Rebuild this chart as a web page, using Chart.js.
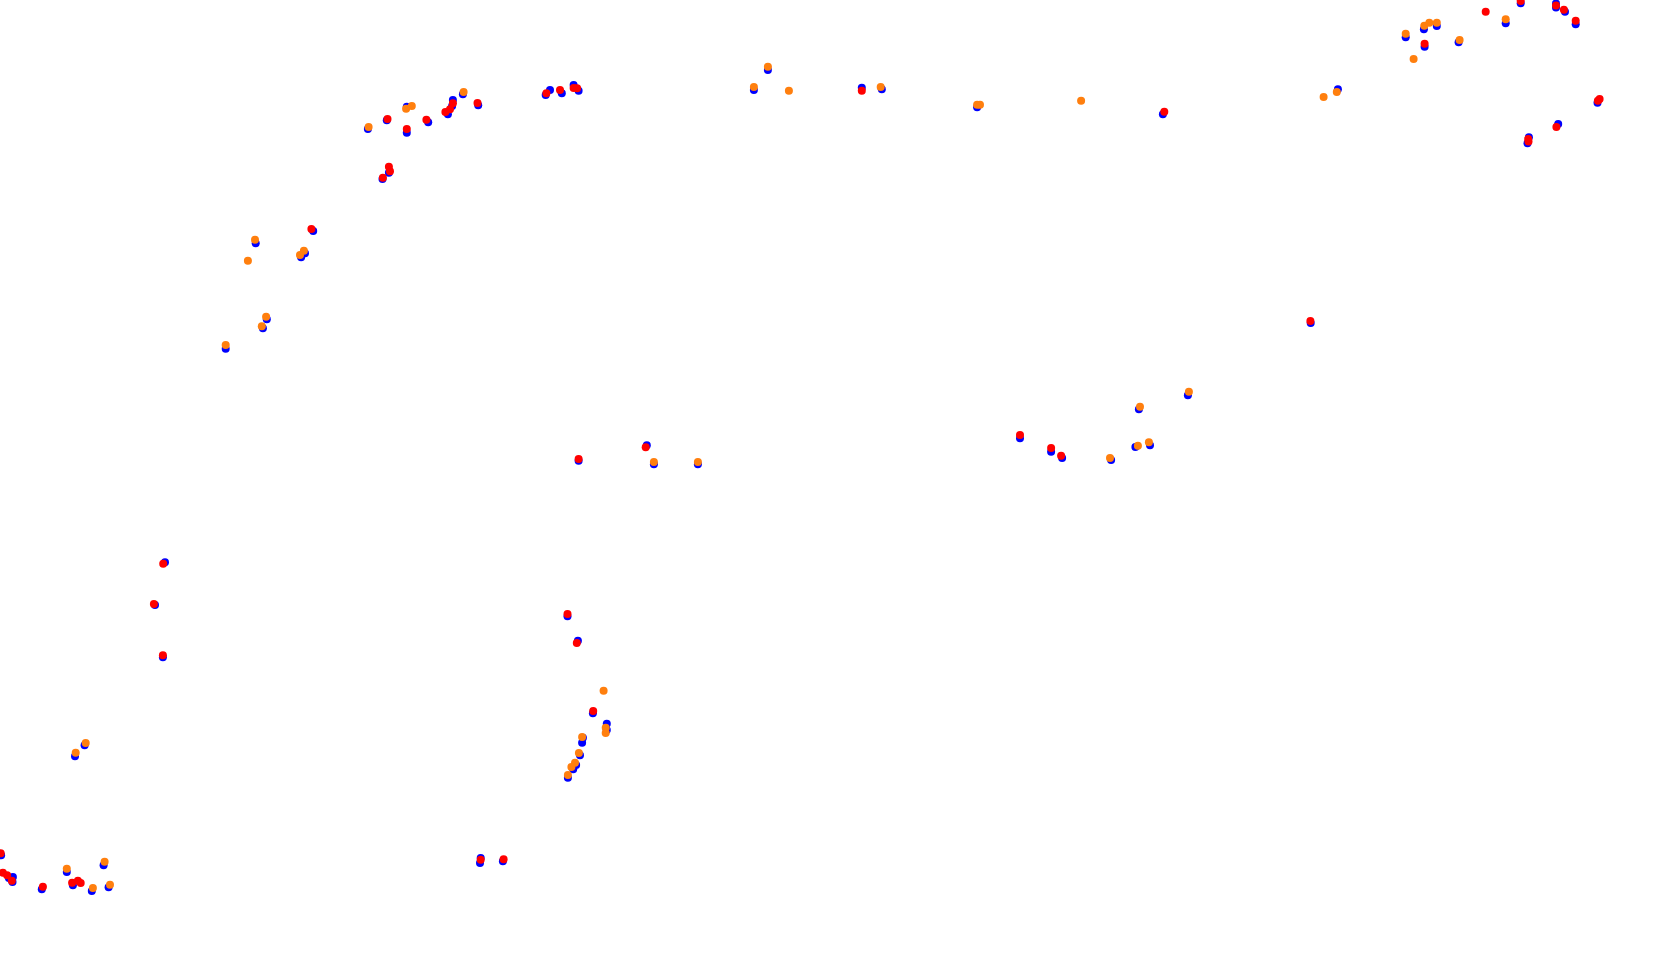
<!DOCTYPE html>
<html>
<head>
    <title>Track points</title>
    <script src="https://cdn.jsdelivr.net/npm/chart.js"></script>
    <style>
        html, body { margin: 0; padding: 0; background: white; }
        #track { display: block; }
    </style>
</head>
<body>
<canvas id="track" width="1680" height="969"></canvas>
<script>
    // position readings per run (x across, y down)
    const blueX = [386.8, 367.9, 406.8, 406.8, 428.2, 447.9, 452.9, 452.1, 462.9, 478.2, 545.7, 550, 561.8, 573.6, 578.6,
        767.9, 753.9, 861.8, 881.8, 977.1, 1520.7, 1556, 1556, 1565, 1575.7, 1505.7, 1405.7, 1423.9, 1436.8, 1424.6,
        1458.6, 1337.9, 1162.9, 1597.5, 1558.2, 1528.9, 1527.5, 1310.7, 1187.9, 1138.9, 1135.4, 1150, 578.6, 646.8,
        653.9, 697.9, 1020, 1051.1, 1062.1, 1111.1, 567.5, 577.9, 388.9, 382.5, 313.2, 255.7, 305, 301.1, 266.8,
        262.9, 225.7, 165, 155, 162.9, 84.6, 75, 1.1, 8.9, 12.5, 12.9, 41.8, 66.8, 72.9, 91.8, 103.6, 108.6, 480.7,
        480, 502.9, 592.9, 606.8, 606.8, 582.9, 582.1, 580, 576.1, 573.2, 567.9];
    const blueY = [120.3, 129, 106.7, 132.7, 122.3, 114.3, 100, 106, 94.3, 105.3, 95, 90, 93.3, 85, 90.7,
        70, 90, 87.7, 89.3, 107.3, 3.3, 3.5, 7.5, 11.7, 24.3, 23.3, 37.3, 29.3, 26, 46.7,
        42.3, 89.3, 114.3, 102.7, 124, 137.3, 143.3, 323, 395.3, 409.3, 447, 445.3, 460.7, 445.3,
        464.3, 464.3, 438.3, 451.7, 458, 460, 616.3, 640.7, 172.7, 179, 231, 243.3, 253.3, 257.3, 319.3,
        328.3, 348.7, 562.3, 605, 657.3, 745.3, 756.3, 855.3, 878, 882, 877, 889.3, 872, 885.3, 891, 865.3, 887.3, 858,
        863, 861.3, 713.3, 723.7, 730, 737.7, 742.7, 755.3, 765, 769.3, 777.7];

    const redX = [387.5, 406.8, 426.4, 445.4, 450, 452.9, 477.5, 546.4, 560, 573.6, 577.1, 861.8, 1520.7, 1485.7,
        1556, 1563.9, 1575.7, 1424.6, 1164.3, 1599.6, 1597.9, 1556.4, 1528.2, 1528.5, 1310.4, 388.9, 390, 382.9,
        311.4, 578.6, 645.7, 1020, 1051.1, 1061.1, 567.5, 576.8, 163.2, 153.9, 162.9, 0.7, 2.9, 7.1, 11.8, 42.9,
        72.1, 77.9, 80.7, 480.7, 503.6, 593.2];
    const redY = [119, 129, 119.7, 112, 109.3, 103.3, 103, 93.3, 90, 88, 88.3, 90.7, 1, 11.7,
        5.5, 9.7, 20.7, 43.7, 111.7, 99, 100.7, 127, 139, 141.5, 321, 166.7, 171.3, 177.7,
        229, 459, 447.3, 435, 448, 455.7, 614, 643, 563.7, 604, 655.3, 853.3, 872.7, 875.3, 880.7, 886.7,
        882.7, 880.7, 883, 859.7, 859.3, 711];

    const orangeX = [368.6, 406.1, 411.8, 463.6, 767.9, 753.9, 788.9, 880.7, 977.1, 980, 1081.1, 1505.7, 1405.7,
        1424.3, 1429.3, 1436.8, 1459.6, 1413.6, 1323.6, 1336.8, 1188.9, 1140, 1137.9, 1148.9, 653.9, 697.9, 1110,
        255, 303.9, 300, 247.9, 266.1, 261.8, 225.7, 85.7, 75.7, 66.8, 92.9, 104.6, 110, 603.6, 605.7, 605.7,
        582.1, 578.9, 575, 571.4, 567.9];
    const orangeY = [127, 108.7, 106, 92, 66.7, 87, 90.7, 87, 104.7, 104.7, 100.7, 19.3, 33.7,
        25.7, 22.7, 22.7, 40, 59, 97, 92, 391.7, 406.7, 445.7, 442.3, 462, 462, 458,
        239.7, 250.7, 255, 260.7, 316.7, 326.3, 345, 743, 752.7, 868.7, 888, 861.7, 884.7, 690.7, 727.7, 733,
        737, 753, 762.7, 767, 775];

    function toPoints(xs, ys) {
        return xs.map((x, i) => ({ x: x, y: ys[i] }));
    }

    const ctx = document.getElementById('track').getContext('2d');
    new Chart(ctx, {
        type: 'scatter',
        data: {
            datasets: [
                { label: 'Run 1', data: toPoints(blueX, blueY), backgroundColor: '#0000ff', order: 3 },
                { label: 'Run 2', data: toPoints(redX, redY), backgroundColor: '#ff0000', order: 2 },
                { label: 'Run 3', data: toPoints(orangeX, orangeY), backgroundColor: '#ff7f0e', order: 1 }
            ]
        },
        options: {
            responsive: false,
            animation: false,
            layout: { padding: 0, autoPadding: false },
            elements: {
                point: { radius: 4, borderWidth: 0, hoverRadius: 4 }
            },
            plugins: {
                legend: { display: false },
                tooltip: { enabled: false }
            },
            scales: {
                x: { type: 'linear', display: false, min: 0, max: 1680 },
                y: { type: 'linear', display: false, min: 0, max: 969, reverse: true }
            }
        }
    });
</script>
</body>
</html>
